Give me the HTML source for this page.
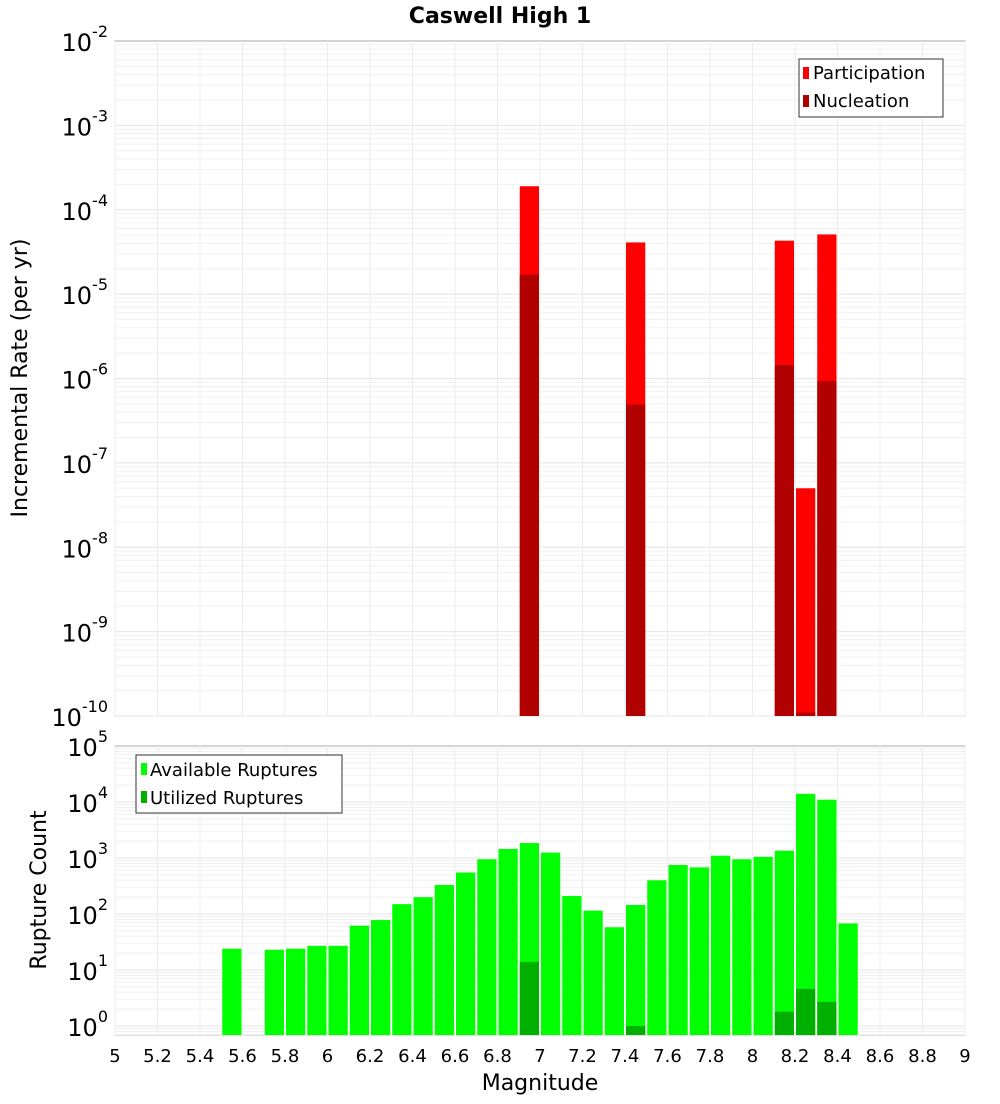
<!DOCTYPE html>
<html><head><meta charset="utf-8"><style>
body{margin:0;background:#fff;font-family:"DejaVu Sans","Liberation Sans",sans-serif}
svg text{font-family:"DejaVu Sans","Liberation Sans",sans-serif}
</style></head><body>
<svg id="c" width="1000" height="1100" xmlns="http://www.w3.org/2000/svg">
<text x="500" y="23" text-anchor="middle" font-size="22" font-weight="bold">Caswell High 1</text>
<text transform="translate(27,378) rotate(-90)" text-anchor="middle" font-size="22">Incremental Rate (per yr)</text>
<text transform="translate(46,890) rotate(-90)" text-anchor="middle" font-size="22">Rupture Count</text>
<text x="540" y="1090" text-anchor="middle" font-size="22">Magnitude</text>
<g id="g"></g>
<rect x="799" y="59" width="144" height="58" fill="#fff" stroke="#333"/>
<rect x="803" y="67" width="6" height="12" fill="#ff0000"/><text x="813" y="79" font-size="18">Participation</text>
<rect x="803" y="95" width="6" height="12" fill="#b00000"/><text x="813" y="107" font-size="18">Nucleation</text>
<rect x="136" y="755" width="206" height="58" fill="#fff" stroke="#333"/>
<rect x="141" y="763" width="6" height="12" fill="#00ff00"/><text x="150" y="776" font-size="18">Available Ruptures</text>
<rect x="141" y="791" width="6" height="12" fill="#00b000"/><text x="150" y="804" font-size="18">Utilized Ruptures</text>
</svg>
<script>
const topMags=[6.95,7.45,8.15,8.25,8.35];
const participation=[1.9e-4,4.1e-5,4.3e-5,5e-8,5.1e-5];
const nucleation=[1.7e-5,4.9e-7,1.45e-6,1.1e-10,9.3e-7];
const botMags=[5.55,5.75,5.85,5.95,6.05,6.15,6.25,6.35,6.45,6.55,6.65,6.75,6.85,6.95,7.05,7.15,7.25,7.35,7.45,7.55,7.65,7.75,7.85,7.95,8.05,8.15,8.25,8.35,8.45];
const available=[24,23,24,27,27,62,78,150,200,330,550,950,1450,1850,1250,210,115,58,145,400,750,680,1100,950,1050,1350,14000,11000,68];
const utilMags=[6.95,7.45,8.15,8.25,8.35];
const utilized=[14,1,1.8,4.6,2.7];
const xTicks=["5","5.2","5.4","5.6","5.8","6","6.2","6.4","6.6","6.8","7","7.2","7.4","7.6","7.8","8","8.2","8.4","8.6","8.8","9"];
const NS="http://www.w3.org/2000/svg",g=document.getElementById('g');
const X0=115,X1=965;
const x=m=>X0+(m-5)/4*(X1-X0);
const yT=v=>41+(-2-Math.log10(v))*84.375;
const yB=v=>746+(5-Math.log10(v))*56;
function el(t,a){const e=document.createElementNS(NS,t);for(const k in a)e.setAttribute(k,a[k]);g.appendChild(e);return e;}
// panels
let p=el('rect',{x:X0,y:41,width:850,height:675,fill:'#fff',stroke:'#aaa'});


p=el('rect',{x:X0,y:746,width:850,height:289,fill:'#fff',stroke:'#aaa'});


// grids
for(let d=-10;d<-2;d++)for(let k=1;k<10;k++){const yy=yT(k*Math.pow(10,d));if(yy<41)continue;el('line',{x1:X0,x2:X1,y1:yy,y2:yy,stroke:k==1?'#e4e4e4':'#f0f0f0'});}
for(let d=-1;d<5;d++)for(let k=1;k<10;k++){const yy=yB(k*Math.pow(10,d));if(yy<746||yy>1035)continue;el('line',{x1:X0,x2:X1,y1:yy,y2:yy,stroke:k==1?'#e4e4e4':'#f0f0f0'});}
xTicks.forEach(t=>{const xx=x(+t);el('line',{x1:xx,x2:xx,y1:41,y2:716,stroke:'#ececec'});el('line',{x1:xx,x2:xx,y1:746,y2:1035,stroke:'#ececec'});
const tx=el('text',{x:xx,y:1062,'text-anchor':'middle','font-size':18});tx.textContent=t;

});
// y labels
function ylab(yy,exp,name){const t=el('text',{x:108,y:yy+10,'text-anchor':'end','font-size':24});t.innerHTML='10<tspan font-size="16" dy="-14">'+exp+'</tspan>';

}
for(let d=-10;d<=-2;d++)ylab(yT(Math.pow(10,d)),d,'top-y-tick-label');
for(let d=0;d<=5;d++)ylab(yB(Math.pow(10,d)),d,'bottom-y-tick-label');
const bw=x(5.1)-x(5)-2;
function bar(m,v,yf,base,col,name){const yy=yf(v);const r=el('rect',{x:x(m-0.05)+1,y:yy,width:bw,height:base-yy,fill:col});

}
topMags.forEach((m,i)=>bar(m,participation[i],yT,716,'#ff0000','participation-bar'));
topMags.forEach((m,i)=>bar(m,nucleation[i],yT,716,'#b00000','nucleation-bar'));
botMags.forEach((m,i)=>bar(m,available[i],yB,1035,'#00ff00','available-bar'));
utilMags.forEach((m,i)=>bar(m,utilized[i],yB,1035,'#00b000','utilized-bar'));
// move legends to front
const svg=document.getElementById('c');
[...svg.querySelectorAll('rect,text')].filter(e=>e.parentNode===svg&&e.getAttribute('y')<830&&(e.getAttribute('x')>790||(e.getAttribute('y')>750&&e.getAttribute('x')<350&&e.getAttribute('x')>130))).forEach(e=>svg.appendChild(e));
</script>
</body></html>
